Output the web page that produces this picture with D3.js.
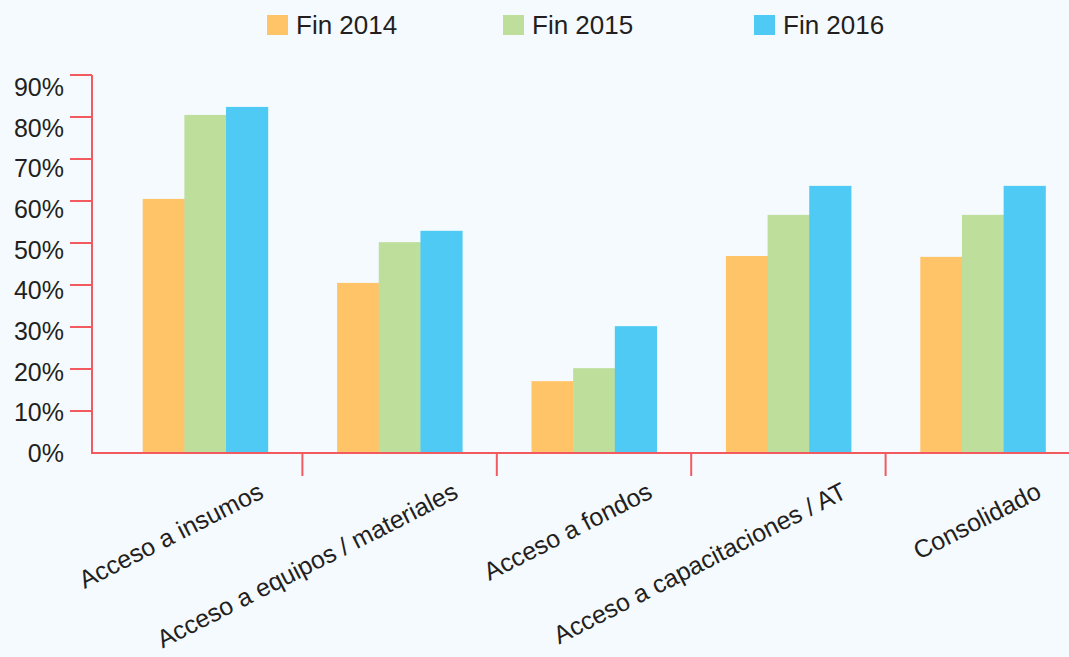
<!DOCTYPE html>
<html>
<head>
<meta charset="utf-8">
<script src="https://cdn.jsdelivr.net/npm/d3@7"></script>
<style>
  html, body { margin: 0; padding: 0; background: #f5fafe; }
  svg { display: block; font-family: "Liberation Sans", Arial, Helvetica, sans-serif; }
</style>
</head>
<body>
<svg width="1069" height="657"></svg>
<script>
// data
var categories = [
    "Acceso a insumos",
    "Acceso a equipos / materiales",
    "Acceso a fondos",
    "Acceso a capacitaciones / AT",
    "Consolidado"
];
var series = ["Fin 2014", "Fin 2015", "Fin 2016"];
var fin2014 = [0.605, 0.405, 0.171, 0.469, 0.467];
var fin2015 = [0.805, 0.502, 0.202, 0.567, 0.567];
var fin2016 = [0.824, 0.529, 0.302, 0.636, 0.636];
var yTicks = [0, 0.1, 0.2, 0.3, 0.4, 0.5, 0.6, 0.7, 0.8, 0.9];

var colors = ["#ffc468", "#bede9c", "#4fcaf4"];
var axisColor = "#f25a60",
    textColor = "#231f20";

var values = [fin2014, fin2015, fin2016];
var rows = categories.map(function (c, i) {
    return { cat: c, vals: series.map(function (s, j) { return { s: s, v: values[j][i] }; }) };
});

var svg = d3.select("svg"),
    width = +svg.attr("width"),
    height = +svg.attr("height");

var y = d3.scaleLinear().domain([0, 0.9]).range([453, 75]);
// labels in the reference sit on a slightly tighter spacing than the ticks
var yLab = d3.scaleLinear().domain([0, 0.9]).range([453, 87]);

var x0 = d3.scaleBand().domain(categories).range([108, 1080]).padding(0);
var groupW = 125;
var x1 = d3.scaleBand().domain(series).range([0, groupW]).padding(0);

// bars
var g = svg.append("g");
g.selectAll(".group")
    .data(rows)
    .enter().append("g")
    .attr("class", "group")
    .attr("transform", function (d) {
        return "translate(" + (x0(d.cat) + (x0.bandwidth() - groupW) / 2) + ",0)";
    })
    .selectAll("rect")
    .data(function (d) { return d.vals; })
    .enter().append("rect")
    .attr("x", function (d) { return x1(d.s); })
    .attr("y", function (d) { return y(d.v); })
    .attr("width", x1.bandwidth() + 0.5)
    .attr("height", function (d) { return y(0) - y(d.v); })
    .attr("fill", function (d, i) { return colors[i]; });

// y axis
var yAxis = svg.append("g");
yAxis.append("line")
    .attr("x1", 92).attr("x2", 92)
    .attr("y1", y(0.9)).attr("y2", y(0))
    .attr("stroke", axisColor).attr("stroke-width", 2);
yAxis.selectAll(".tick")
    .data(yTicks.filter(function (t) { return t > 0; }))
    .enter().append("line")
    .attr("x1", 70).attr("x2", 92)
    .attr("y1", function (d) { return y(d); })
    .attr("y2", function (d) { return y(d); })
    .attr("stroke", axisColor).attr("stroke-width", 2);
yAxis.selectAll(".lab")
    .data(yTicks)
    .enter().append("text")
    .attr("x", 64)
    .attr("y", function (d) { return yLab(d); })
    .attr("dy", "0.36em")
    .attr("text-anchor", "end")
    .attr("font-size", 25)
    .attr("fill", textColor)
    .text(d3.format(".0%"));

// x axis
var xAxis = svg.append("g");
xAxis.append("line")
    .attr("x1", 91).attr("x2", width)
    .attr("y1", y(0)).attr("y2", y(0))
    .attr("stroke", axisColor).attr("stroke-width", 2);
xAxis.selectAll(".tick")
    .data(categories.slice(1))
    .enter().append("line")
    .attr("x1", function (d) { return x0(d); })
    .attr("x2", function (d) { return x0(d); })
    .attr("y1", y(0)).attr("y2", y(0) + 23)
    .attr("stroke", axisColor).attr("stroke-width", 2);
xAxis.selectAll(".lab")
    .data(categories)
    .enter().append("text")
    .attr("transform", function (d) {
        return "translate(" + (x0(d) + x0.bandwidth() / 2 + 60) + ",497) rotate(-27)";
    })
    .attr("text-anchor", "end")
    .attr("font-size", 25)
    .attr("fill", textColor)
    .text(function (d) { return d; });

// legend
var legendX = [267, 503, 754];
var legend = svg.append("g").selectAll(".item")
    .data(series)
    .enter().append("g")
    .attr("transform", function (d, i) { return "translate(" + legendX[i] + ",0)"; });
legend.append("rect")
    .attr("x", 0).attr("y", 15)
    .attr("width", 21).attr("height", 20)
    .attr("fill", function (d, i) { return colors[i]; });
legend.append("text")
    .attr("x", 29).attr("y", 34)
    .attr("font-size", 26)
    .attr("fill", textColor)
    .text(function (d) { return d; });
</script>
</body>
</html>
